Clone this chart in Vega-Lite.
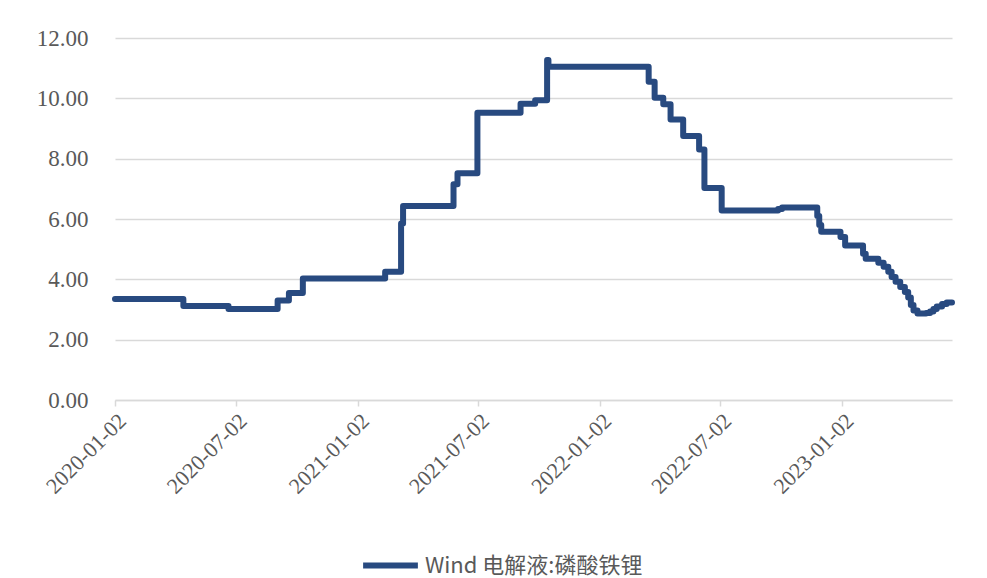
{
  "$schema": "https://vega.github.io/schema/vega-lite/v6.json",
  "width": 837,
  "height": 362,
  "autosize": "none",
  "padding": {"left": 115, "top": 38, "right": 35, "bottom": 178},
  "background": "white",
  "config": {"view": {"stroke": null}},
  "data": {
    "values": [
      {"date": "2020-01-02", "value": 3.35},
      {"date": "2020-04-14", "value": 3.12},
      {"date": "2020-06-21", "value": 3.02},
      {"date": "2020-09-03", "value": 3.30},
      {"date": "2020-09-20", "value": 3.55},
      {"date": "2020-10-11", "value": 4.03},
      {"date": "2021-02-12", "value": 4.25},
      {"date": "2021-03-08", "value": 5.85},
      {"date": "2021-03-11", "value": 6.43},
      {"date": "2021-05-26", "value": 7.15},
      {"date": "2021-06-01", "value": 7.52},
      {"date": "2021-07-01", "value": 9.52},
      {"date": "2021-09-04", "value": 9.82},
      {"date": "2021-09-26", "value": 9.94},
      {"date": "2021-10-14", "value": 11.27},
      {"date": "2021-10-16", "value": 11.05},
      {"date": "2022-03-16", "value": 10.55},
      {"date": "2022-03-25", "value": 10.02},
      {"date": "2022-04-07", "value": 9.80},
      {"date": "2022-04-18", "value": 9.30},
      {"date": "2022-05-07", "value": 8.75},
      {"date": "2022-05-31", "value": 8.30},
      {"date": "2022-06-08", "value": 7.03},
      {"date": "2022-07-04", "value": 6.28},
      {"date": "2022-09-27", "value": 6.33},
      {"date": "2022-10-03", "value": 6.38},
      {"date": "2022-11-25", "value": 6.10},
      {"date": "2022-11-28", "value": 5.80},
      {"date": "2022-12-01", "value": 5.58},
      {"date": "2022-12-30", "value": 5.40},
      {"date": "2023-01-06", "value": 5.12},
      {"date": "2023-02-02", "value": 4.85},
      {"date": "2023-02-06", "value": 4.68},
      {"date": "2023-02-25", "value": 4.55},
      {"date": "2023-03-05", "value": 4.42},
      {"date": "2023-03-12", "value": 4.25},
      {"date": "2023-03-17", "value": 4.08},
      {"date": "2023-03-23", "value": 3.92},
      {"date": "2023-03-30", "value": 3.75},
      {"date": "2023-04-06", "value": 3.58},
      {"date": "2023-04-11", "value": 3.40},
      {"date": "2023-04-15", "value": 3.15},
      {"date": "2023-04-19", "value": 2.97},
      {"date": "2023-04-25", "value": 2.87},
      {"date": "2023-05-08", "value": 2.88},
      {"date": "2023-05-14", "value": 2.93},
      {"date": "2023-05-19", "value": 3.02},
      {"date": "2023-05-24", "value": 3.10},
      {"date": "2023-06-01", "value": 3.18},
      {"date": "2023-06-08", "value": 3.23},
      {"date": "2023-06-16", "value": 3.23}
    ]
  },
  "transform": [{"calculate": "'Wind 电解液:磷酸铁锂'", "as": "series"}],
  "mark": {"type": "line", "interpolate": "step-after", "strokeWidth": 6, "strokeJoin": "round", "strokeCap": "round"},
  "encoding": {
    "x": {
      "field": "date",
      "type": "temporal",
      "scale": {
        "type": "utc",
        "domain": [
          {"year": 2020, "month": 1, "date": 2, "utc": true},
          {"year": 2023, "month": 6, "date": 16, "utc": true}
        ]
      },
      "axis": {
        "title": null,
        "grid": false,
        "values": [
          {"year": 2020, "month": 1, "date": 2, "utc": true},
          {"year": 2020, "month": 7, "date": 2, "utc": true},
          {"year": 2021, "month": 1, "date": 2, "utc": true},
          {"year": 2021, "month": 7, "date": 2, "utc": true},
          {"year": 2022, "month": 1, "date": 2, "utc": true},
          {"year": 2022, "month": 7, "date": 2, "utc": true},
          {"year": 2023, "month": 1, "date": 2, "utc": true}
        ],
        "format": "%Y-%m-%d",
        "labelAngle": -45,
        "labelFont": "Times New Roman, Liberation Serif, DejaVu Serif, serif",
        "labelFontSize": 22,
        "labelColor": "#595959",
        "domainColor": "#d9d9d9",
        "domainWidth": 1.5,
        "tickColor": "#d9d9d9",
        "tickSize": 6,
        "tickWidth": 1.5,
        "labelPadding": 4
      }
    },
    "y": {
      "field": "value",
      "type": "quantitative",
      "scale": {"domain": [0, 12]},
      "axis": {
        "title": null,
        "values": [0, 2, 4, 6, 8, 10, 12],
        "format": ".2f",
        "domain": false,
        "ticks": false,
        "gridColor": "#d9d9d9",
        "gridWidth": 1.5,
        "labelFont": "Times New Roman, Liberation Serif, DejaVu Serif, serif",
        "labelFontSize": 23,
        "labelColor": "#595959",
        "labelPadding": 27
      }
    },
    "color": {
      "field": "series",
      "type": "nominal",
      "scale": {"range": ["#284A80"]},
      "legend": {
        "title": null,
        "orient": "none",
        "legendX": 245,
        "legendY": 497,
        "padding": 0,
        "symbolType": "stroke",
        "symbolStrokeWidth": 6,
        "symbolSize": 3000,
        "labelFont": "Noto Sans CJK SC",
        "labelFontSize": 22,
        "labelColor": "#595959",
        "labelOffset": 4,
        "labelLimit": 400
      }
    }
  }
}
